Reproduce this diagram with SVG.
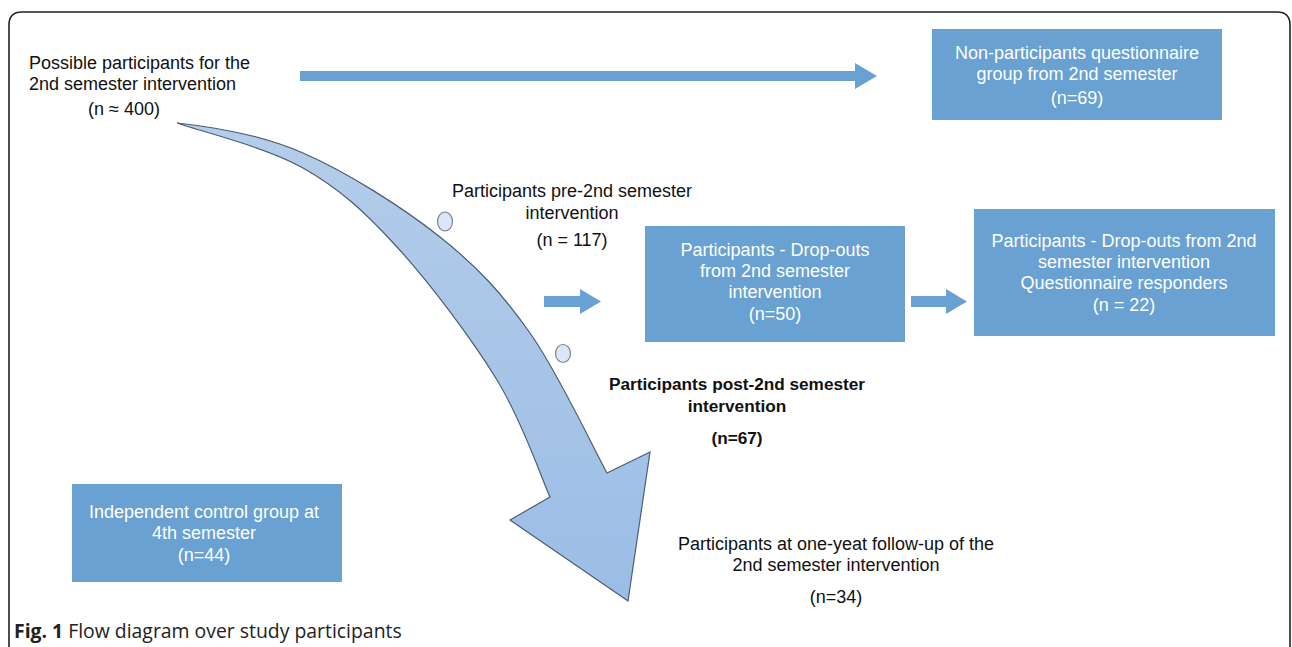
<svg xmlns="http://www.w3.org/2000/svg" width="1292" height="647" viewBox="0 0 1292 647">
<defs>
<style>
.t{font-family:"Liberation Sans",Arial,sans-serif;font-size:18px;fill:#111;text-anchor:middle}
.w{font-family:"Liberation Sans",Arial,sans-serif;font-size:18px;fill:#fff;text-anchor:middle}
.b{font-weight:bold;font-size:17.2px}
.box{fill:#69a1d3}
.arr{fill:#69a1d3}
.dot{fill:#dbe7f6;stroke:#7d8590;stroke-width:1.2}
</style>
<linearGradient id="g" x1="0" y1="0" x2="0" y2="1">
<stop offset="0" stop-color="#b4cdea"/>
<stop offset="1" stop-color="#9bbde5"/>
</linearGradient>
</defs>
<rect width="1292" height="647" fill="#fff"/>
<path d="M9,647 V25 Q9,12 22,12 H1277 Q1290,12 1290,25 V647" fill="none" stroke="#222" stroke-width="1.6"/>

<g id="connectors">
<path class="arr" d="M300,71 H855 V63 L877,76 L855,89 V81 H300 Z"/>
<path class="arr" d="M544,296 H580 V289 L601,301.5 L580,314 V307 H544 Z"/>
<path class="arr" d="M911,296 H946 V289 L967,301.5 L946,314 V307 H911 Z"/>
<path id="curved" d="M177,123 C205,126 259.2,134 303,153 C346.8,172 402.2,207 440,237 C477.8,267 502.2,293.7 530,333 C557.8,372.3 594.2,449.7 607,473 L650,452 L628,601 L510,520 L550,497 C541.2,477.5 522.5,421.7 497,380 C471.5,338.3 429.3,282.3 397,247 C364.7,211.7 339.7,188.7 303,168 C266.3,147.3 198,130.5 177,123 Z" fill="url(#g)" stroke="#4d5d70" stroke-width="1.2" stroke-linejoin="miter"/>
<ellipse class="dot" cx="445" cy="221.5" rx="7.5" ry="9.5"/>
<ellipse class="dot" cx="563" cy="353.5" rx="7.5" ry="9"/>
</g>

<g id="possible">
<text class="t" x="29" y="69" style="text-anchor:start">Possible participants for the</text>
<text class="t" x="29" y="90" style="text-anchor:start">2nd semester intervention</text>
<text class="t" x="124" y="115">(n ≈ 400)</text>
</g>

<g id="nonparticipants">
<rect class="box" x="932" y="29" width="290" height="91"/>
<text class="w" x="1077" y="59">Non-participants questionnaire</text>
<text class="w" x="1077" y="80">group from 2nd semester</text>
<text class="w" x="1077" y="104">(n=69)</text>
</g>

<g id="pre">
<text class="t" x="572" y="197">Participants pre-2nd semester</text>
<text class="t" x="572" y="219">intervention</text>
<text class="t" x="572" y="246">(n = 117)</text>
</g>

<g id="dropouts">
<rect class="box" x="645" y="226" width="260" height="116"/>
<text class="w" x="775" y="256">Participants - Drop-outs</text>
<text class="w" x="775" y="277">from 2nd semester</text>
<text class="w" x="775" y="298">intervention</text>
<text class="w" x="775" y="320">(n=50)</text>
</g>

<g id="responders">
<rect class="box" x="974" y="209" width="301" height="127"/>
<text class="w" x="1124" y="247">Participants - Drop-outs from 2nd</text>
<text class="w" x="1124" y="268">semester intervention</text>
<text class="w" x="1124" y="289">Questionnaire responders</text>
<text class="w" x="1124" y="311">(n = 22)</text>
</g>

<g id="post">
<text class="t b" x="737" y="390">Participants post-2nd semester</text>
<text class="t b" x="737" y="412">intervention</text>
<text class="t b" x="737" y="444">(n=67)</text>
</g>

<g id="control">
<rect class="box" x="72" y="484" width="270" height="98"/>
<text class="w" x="204" y="518">Independent control group at</text>
<text class="w" x="204" y="539">4th semester</text>
<text class="w" x="204" y="561">(n=44)</text>
</g>

<g id="followup">
<text class="t" x="836" y="550">Participants at one-yeat follow-up of the</text>
<text class="t" x="836" y="571">2nd semester intervention</text>
<text class="t" x="836" y="603">(n=34)</text>
</g>

<text x="14" y="638" style="font-family:'Open Sans','Noto Sans',sans-serif;font-size:19.4px;fill:#222"><tspan font-weight="bold">Fig. 1</tspan> Flow diagram over study participants</text>
</svg>
